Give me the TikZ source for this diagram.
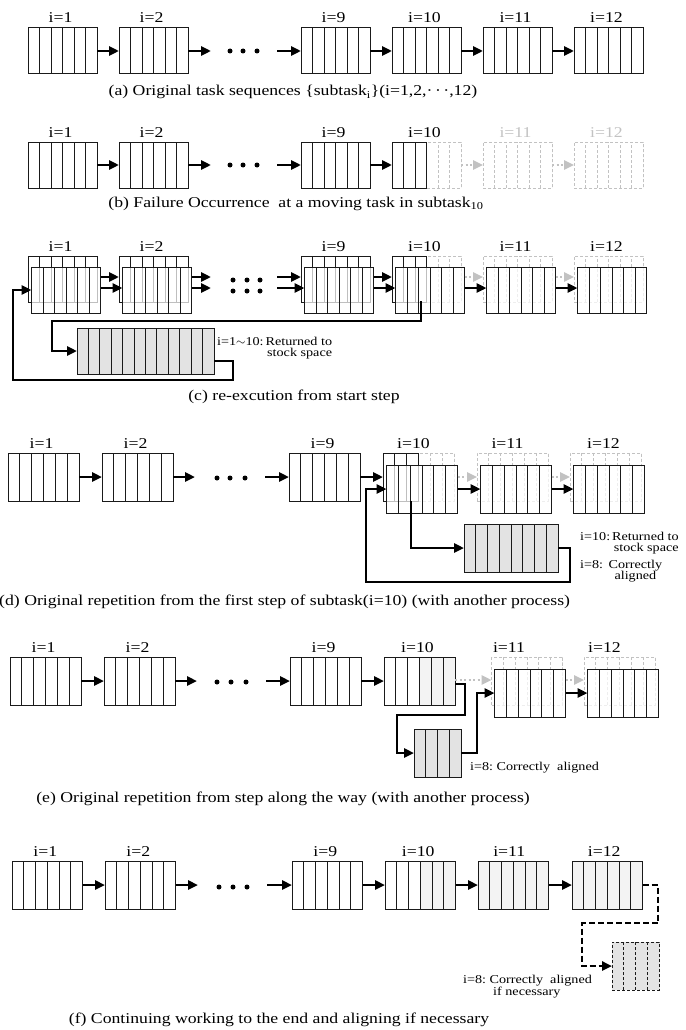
\documentclass[tikz,border=0pt]{standalone}
\usepackage{fontspec}
\setmainfont{Liberation Serif}[FakeStretch=1.18]
\usetikzlibrary{arrows.meta,calc,backgrounds}
\definecolor{boxc}{HTML}{1A1A1A}
\definecolor{gline}{HTML}{C2C2C2}
\definecolor{gfill}{HTML}{E3E3E3}
\definecolor{dfill}{HTML}{F3F3F3}
\tikzset{
  tb/.style={draw=boxc, line width=1pt, inner sep=0pt, outer sep=0pt, anchor=north west,
    minimum width=69pt, minimum height=46pt, solid},
  cols/.style={path picture={\foreach \k in {1,...,#1}{\draw[boxc, line width=0.9pt, solid]
    ($(path picture bounding box.south west)!\k/#1!(path picture bounding box.south east)$) --
    ($(path picture bounding box.north west)!\k/#1!(path picture bounding box.north east)$);}}},
  gcols/.style={path picture={\foreach \k in {1,...,#1}{\draw[gline, line width=0.9pt, dash pattern=on 3pt off 2pt]
    ($(path picture bounding box.south west)!\k/#1!(path picture bounding box.south east)$) --
    ($(path picture bounding box.north west)!\k/#1!(path picture bounding box.north east)$);}}},
  kcols/.style={path picture={\foreach \k in {1,...,#1}{\draw[boxc, line width=0.9pt, dash pattern=on 3pt off 2pt]
    ($(path picture bounding box.south west)!\k/#1!(path picture bounding box.south east)$) --
    ($(path picture bounding box.north west)!\k/#1!(path picture bounding box.north east)$);}}},
  sbox/.style={tb, cols=#1},
  fbox/.style={tb, fill=white, fill opacity=0.72, cols=#1},
  gbox/.style={tb, draw=gline, line width=0.9pt, dash pattern=on 3pt off 2pt, gcols=#1},
  graybox/.style={tb, fill=gfill, cols=#1},
  kbox/.style={tb, fill=gfill, dash pattern=on 3pt off 2pt, kcols=#1},
  arr/.style={draw=black, line width=2.6pt, -{Triangle[length=10pt,width=9pt]}},
  garr/.style={draw=gline, line width=2.4pt, dash pattern=on 2pt off 2.5pt, -{Triangle[length=10pt,width=9pt]}},
  darr/.style={draw=black, line width=2.4pt, dash pattern=on 6pt off 3pt, -{Triangle[length=10pt,width=9pt]}},
  lab/.style={font=\fontsize{15}{17}\selectfont, inner sep=0pt, anchor=base},
  captxt/.style={font=\fontsize{15}{17}\selectfont, inner sep=0pt, anchor=base},
  sm/.style={font=\fontsize{12}{11.5}\selectfont, inner sep=0pt, anchor=base west},
  dot/.style={circle, fill=black, inner sep=0pt, minimum size=5pt},
}
\begin{document}
\begin{tikzpicture}[x=1pt,y=-1pt]
\useasboundingbox (0,0) rectangle (685,1030);

% ================= (a)
\node[sbox=6] (a1) at (28,28) {};
\node[sbox=6] (a2) at (119,28) {};
\node[sbox=6] (a9) at (301,28) {};
\node[sbox=6] (a10) at (392,28) {};
\node[sbox=6] (a11) at (483,28) {};
\node[sbox=6] (a12) at (574,28) {};
\node[lab] (la1) at ($(a1.north)+(-2,-5)$) {i=1};
\node[lab] (la2) at ($(a2.north)+(-2,-5)$) {i=2};
\node[lab] (la9) at ($(a9.north)+(-2,-5)$) {i=9};
\node[lab] (la10) at ($(a10.north)+(-2,-5)$) {i=10};
\node[lab] (la11) at ($(a11.north)+(-2,-5)$) {i=11};
\node[lab] (la12) at ($(a12.north)+(-2,-5)$) {i=12};
\coordinate (a2e) at (211,51);
\coordinate (a9s) at (277,51);
\node[dot] (ad1) at (230,51) {};
\node[dot] (ad2) at (243,51) {};
\node[dot] (ad3) at (257,51) {};
\draw[arr] (a1) -- (a2);
\draw[arr] (a2) -- (a2e);
\draw[arr] (a9s) -- (a9);
\draw[arr] (a9) -- (a10);
\draw[arr] (a10) -- (a11);
\draw[arr] (a11) -- (a12);
\node[captxt] (capa) at (293,96) {(a) Original task sequences \{subtask\textsubscript{i}\}(i=1,2,\textperiodcentered\,\textperiodcentered\,\textperiodcentered,12)};

% ================= (b)
\node[sbox=6] (b1) at (28,142) {};
\node[sbox=6] (b2) at (119,142) {};
\node[sbox=6] (b9) at (301,142) {};
\node[gbox=6] (b10g) at (392,142) {};
\node[sbox=3, minimum width=34.5pt] (b10) at (392,142) {};
\node[gbox=6] (b11) at (483,142) {};
\node[gbox=6] (b12) at (574,142) {};
\node[lab] (lb1) at ($(b1.north)+(-2,-5)$) {i=1};
\node[lab] (lb2) at ($(b2.north)+(-2,-5)$) {i=2};
\node[lab] (lb9) at ($(b9.north)+(-2,-5)$) {i=9};
\node[lab] (lb10) at ($(b10g.north)+(-2,-5)$) {i=10};
\node[lab, text=gline] (lb11) at ($(b11.north)+(-2,-5)$) {i=11};
\node[lab, text=gline] (lb12) at ($(b12.north)+(-2,-5)$) {i=12};
\coordinate (b2e) at (211,165);
\coordinate (b9s) at (277,165);
\node[dot] (bd1) at (230,165) {};
\node[dot] (bd2) at (243,165) {};
\node[dot] (bd3) at (257,165) {};
\draw[arr] (b1) -- (b2);
\draw[arr] (b2) -- (b2e);
\draw[arr] (b9s) -- (b9);
\draw[arr] (b9) -- (b10);
\draw[garr] (b10g) -- (b11);
\draw[garr] (b11) -- (b12);
\node[captxt] (capb) at (296,207) {(b) Failure Occurrence\ \ at a moving task in subtask\textsubscript{10}};

% ================= (c)
\node[sbox=6] (c1b) at (28,256) {};
\node[sbox=6] (c2b) at (119,256) {};
\node[sbox=6] (c9b) at (301,256) {};
\node[gbox=6] (c10g) at (392,256) {};
\node[sbox=3, minimum width=34.5pt] (c10b) at (392,256) {};
\node[gbox=6] (c11b) at (483,256) {};
\node[gbox=6] (c12b) at (574,256) {};
\node[fbox=6] (c1f) at (31.5,267) {};
\node[fbox=6] (c2f) at (122.5,267) {};
\node[fbox=6] (c9f) at (304.5,267) {};
\node[fbox=6] (c10f) at (395.5,267) {};
\node[fbox=6] (c11f) at (486.5,267) {};
\node[fbox=6] (c12f) at (577.5,267) {};
\node[lab] (lc1) at ($(c1b.north)+(-2,-5)$) {i=1};
\node[lab] (lc2) at ($(c2b.north)+(-2,-5)$) {i=2};
\node[lab] (lc9) at ($(c9b.north)+(-2,-5)$) {i=9};
\node[lab] (lc10) at ($(c10g.north)+(-2,-5)$) {i=10};
\node[lab] (lc11) at ($(c11b.north)+(-2,-5)$) {i=11};
\node[lab] (lc12) at ($(c12b.north)+(-2,-5)$) {i=12};
\coordinate (cu) at (0,277);
\coordinate (cl) at (0,288);
\coordinate (c2eu) at (211,277);
\coordinate (c2el) at (211,288);
\coordinate (c9su) at (277,277);
\coordinate (c9sl) at (277,288);
\node[dot] (cd1) at (233,280) {};
\node[dot] (cd2) at (247,280) {};
\node[dot] (cd3) at (260,280) {};
\node[dot] (cd4) at (233,291) {};
\node[dot] (cd5) at (247,291) {};
\node[dot] (cd6) at (260,291) {};
\draw[arr] (c1f.east |- cu) -- (c2b.west |- cu);
\draw[arr] (c1f.east |- cl) -- (c2f.west |- cl);
\draw[arr] (c2f.east |- cu) -- (c2eu);
\draw[arr] (c2f.east |- cl) -- (c2el);
\draw[arr] (c9su) -- (c9b.west |- cu);
\draw[arr] (c9sl) -- (c9f.west |- cl);
\draw[arr] (c9f.east |- cu) -- (c10b.west |- cu);
\draw[arr] (c9f.east |- cl) -- (c10f.west |- cl);
\draw[garr] (c10f.east |- cu) -- (c11b.west |- cu);
\draw[arr] (c10f.east |- cl) -- (c11f.west |- cl);
\draw[garr] (c11f.east |- cu) -- (c12b.west |- cu);
\draw[arr] (c11f.east |- cl) -- (c12f.west |- cl);
\node[graybox=12, minimum width=137pt] (cg) at (77,328) {};
\coordinate (cst) at (421,301);
\draw[arr] (cst) -- (421,321) -- (52,321) -- (52,351) -- (cg.west);
\draw[arr] ($(cg.east)+(0,10)$) -- (233,361) -- (233,380) -- (13,380) -- (13,290) -- (c1f.west);
\node[sm] (lcg) at (217,345) {\begin{tabular}[t]{@{}l@{\,}r@{}}i=1$\sim$10:&Returned to\\&stock space\end{tabular}};
\node[captxt] (capc) at (294,400) {(c) re-excution from start step};

% ================= (d)
\begin{scope}[tb/.append style={minimum width=71pt, minimum height=48pt}]
\node[sbox=6] (d1) at (8,453) {};
\node[sbox=6] (d2) at (102,453) {};
\node[sbox=6] (d9) at (289,453) {};
\node[gbox=6] (d10g) at (383,453) {};
\node[sbox=3, minimum width=35.5pt] (d10b) at (383,453) {};
\node[gbox=6] (d11b) at (477,453) {};
\node[gbox=6] (d12b) at (570,453) {};
\node[fbox=6] (d10f) at (386.5,465) {};
\node[fbox=6] (d11f) at (480.5,465) {};
\node[fbox=6] (d12f) at (573.5,465) {};
\node[lab] (ld1) at ($(d1.north)+(-2,-5)$) {i=1};
\node[lab] (ld2) at ($(d2.north)+(-2,-5)$) {i=2};
\node[lab] (ld9) at ($(d9.north)+(-2,-5)$) {i=9};
\node[lab] (ld10) at ($(d10g.north)+(-5,-5)$) {i=10};
\node[lab] (ld11) at ($(d11b.north)+(-5,-5)$) {i=11};
\node[lab] (ld12) at ($(d12b.north)+(-2,-5)$) {i=12};
\coordinate (du) at (0,477);
\coordinate (d2e) at (195,477);
\coordinate (d9s) at (265,477);
\node[dot] (dd1) at (217,478) {};
\node[dot] (dd2) at (230,478) {};
\node[dot] (dd3) at (245,478) {};
\draw[arr] (d1) -- (d2);
\draw[arr] (d2) -- (d2e);
\draw[arr] (d9s) -- (d9);
\draw[arr] (d9) -- (d10b.west |- du);
\draw[garr] (d10f.east |- du) -- (d11b.west |- du);
\draw[arr] (d10f) -- (d11f);
\draw[garr] (d11f.east |- du) -- (d12b.west |- du);
\draw[arr] (d11f) -- (d12f);
\node[graybox=8, minimum width=94pt] (dg) at (464,524) {};
\coordinate (dst) at (411,501);
\draw[arr] (dst) -- (411,548) -- (dg.west);
\draw[arr] (dg.east) -- (570,548) -- (570,582) -- (366,582) -- (366,489) -- (d10f.west);
\node[sm] (ldg1) at (580,540) {\begin{tabular}[t]{@{}l@{\,}r@{}}i=10:&Returned to\\&stock space\end{tabular}};
\node[sm] (ldg2) at (580,568) {\begin{tabular}[t]{@{}l@{\ \,}c@{}}i=8:&Correctly\\&aligned\end{tabular}};
\end{scope}
\node[captxt, anchor=base west] (capd) at (-1,605) {(d) Original repetition from the first step of subtask(i=10) (with another process)};

% ================= (e)
\begin{scope}[tb/.append style={minimum width=71pt, minimum height=48pt}]
\node[sbox=6] (e1) at (10,657) {};
\node[sbox=6] (e2) at (104,657) {};
\node[sbox=6] (e9) at (290,657) {};
\node[sbox=6] (e10) at (384,657) {};
\begin{scope}[on background layer]
\fill[dfill] (e10.north) rectangle (e10.south east);
\end{scope}
\node[gbox=6] (e11b) at (491.5,657) {};
\node[gbox=6] (e12b) at (584,657) {};
\node[fbox=6] (e11f) at (494.5,669) {};
\node[fbox=6] (e12f) at (587.5,669) {};
\node[lab] (le1) at ($(e1.north)+(-2,-5)$) {i=1};
\node[lab] (le2) at ($(e2.north)+(-2,-5)$) {i=2};
\node[lab] (le9) at ($(e9.north)+(-2,-5)$) {i=9};
\node[lab] (le10) at ($(e10.north)+(-2,-5)$) {i=10};
\node[lab] (le11) at ($(e11b.north)+(-18,-5)$) {i=11};
\node[lab] (le12) at ($(e12b.north)+(-15,-5)$) {i=12};
\coordinate (eu) at (0,680);
\coordinate (e2e) at (197,681);
\coordinate (e9s) at (266,681);
\node[dot] (ed1) at (217,682) {};
\node[dot] (ed2) at (231,682) {};
\node[dot] (ed3) at (246,682) {};
\draw[arr] (e1) -- (e2);
\draw[arr] (e2) -- (e2e);
\draw[arr] (e9s) -- (e9);
\draw[arr] (e9) -- (e10);
\draw[garr] (e10.east |- eu) -- (e11b.west |- eu);
\draw[garr] (e11f.east |- eu) -- (e12b.west |- eu);
\draw[arr] (e11f) -- (e12f);
\node[graybox=4, minimum width=47pt] (eg) at (414,729) {};
\draw[arr] ($(e10.east)+(0,3)$) -- (465,684) -- (465,715) -- (397,715) -- (397,753) -- (eg.west);
\draw[arr] (eg.east) -- (477,753) -- (477,693) -- (e11f.west);
\node[sm] (leg) at (470,770) {i=8:\ Correctly\ \ aligned};
\end{scope}
\node[captxt] (cape) at (283,802) {(e) Original repetition from step along the way (with another process)};

% ================= (f)
\begin{scope}[tb/.append style={minimum width=70.5pt, minimum height=48pt}]
\node[sbox=6] (f1) at (12,861) {};
\node[sbox=6] (f2) at (105,861) {};
\node[sbox=6] (f9) at (292,861) {};
\node[sbox=6] (f10) at (385,861) {};
\node[sbox=6] (f11) at (478,861) {};
\node[sbox=6] (f12) at (572,861) {};
\begin{scope}[on background layer]
\fill[dfill] (f10.north) rectangle (f10.south east);
\fill[dfill] (f11.north west) rectangle (f11.south east);
\fill[dfill] (f12.north west) rectangle (f12.south east);
\end{scope}
\node[lab] (lf1) at ($(f1.north)+(-2,-5)$) {i=1};
\node[lab] (lf2) at ($(f2.north)+(-2,-5)$) {i=2};
\node[lab] (lf9) at ($(f9.north)+(-2,-5)$) {i=9};
\node[lab] (lf10) at ($(f10.north)+(-2,-5)$) {i=10};
\node[lab] (lf11) at ($(f11.north)+(-4,-5)$) {i=11};
\node[lab] (lf12) at ($(f12.north)+(-3,-5)$) {i=12};
\coordinate (f2e) at (198,885);
\coordinate (f9s) at (267,885);
\node[dot] (fd1) at (219,887) {};
\node[dot] (fd2) at (233,887) {};
\node[dot] (fd3) at (247,887) {};
\draw[arr] (f1) -- (f2);
\draw[arr] (f2) -- (f2e);
\draw[arr] (f9s) -- (f9);
\draw[arr] (f9) -- (f10);
\draw[arr] (f10) -- (f11);
\draw[arr] (f11) -- (f12);
\node[kbox=4, minimum width=47pt] (fg) at (612,942) {};
\draw[darr] (f12.east) -- (658,885) -- (658,923) -- (582,923) -- (582,966) -- (fg.west);
\node[sm] (lfg1) at (463,983) {i=8:\ Correctly\ \ aligned};
\node[sm] (lfg2) at (493,995) {if necessary};
\end{scope}
\node[captxt] (capf) at (279,1023) {(f) Continuing working to the end and aligning if necessary};
\end{tikzpicture}
\end{document}
